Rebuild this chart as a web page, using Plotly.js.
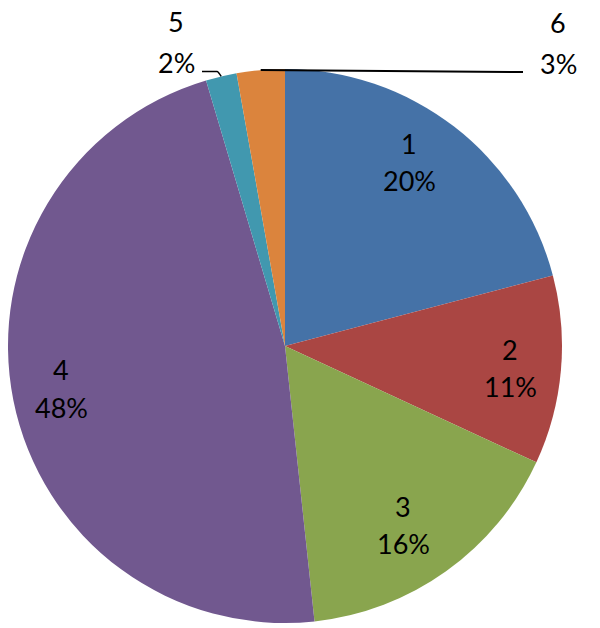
<!DOCTYPE html>
<html>
<head>
<meta charset="utf-8">
<script src="https://cdn.plot.ly/plotly-3.0.1.min.js"></script>
<style>html,body{margin:0;padding:0;background:#fff;}#chart{width:600px;height:628px;}</style>
</head>
<body>
<div id="chart"></div>
<script>
const labels = ['1', '2', '3', '4', '5', '6'];
const values = [20.9, 11.0, 16.4, 47.1, 1.8, 2.8];
const percentLabels = ['20%', '11%', '16%', '48%', '2%', '3%'];
const colors = ['#4572A7', '#AA4643', '#89A54E', '#71588F', '#4198AF', '#DB843D'];

// layout geometry
const W = 600, H = 628;
const L = 8, T = 69, S = 554;
const cx = L + S / 2, cy = T + S / 2, R = S / 2;
const toPx = (px) => (px - L) / S;
const toPy = (py) => 1 - (py - T) / S;

const total = values.reduce((a, b) => a + b, 0);
const cum = [];
let acc = 0;
values.forEach(v => { cum.push(acc); acc += v; });
const midAngle = i => (cum[i] + values[i] / 2) / total * 2 * Math.PI;

// data-label placement (pixel centres of each two-line label box)
const labelBoxes = [
  {i: 0, x: 409, y: 162, gap: 37.5},
  {i: 1, x: 510, y: 368, gap: 37.5},
  {i: 2, x: 403, y: 525, gap: 37.5},
  {i: 3, x: 61, y: 388, gap: 38},
  {i: 4, x: 176, y: 42, gap: 40, ex: 202, ey: 71.5, kx: 217},
  {i: 5, x: 558, y: 43, gap: 40, ex: 523, ey: 72}
];

const font = {family: 'Lato, "Open Sans", sans-serif', size: 27, color: '#000'};
const annotations = [];
const shapes = [];
labelBoxes.forEach(b => {
  annotations.push({x: toPx(b.x), y: toPy(b.y - b.gap / 2), xref: 'paper', yref: 'paper', text: labels[b.i],
    showarrow: false, font: font, xanchor: 'center', yanchor: 'middle'});
  annotations.push({x: toPx(b.x), y: toPy(b.y + b.gap / 2), xref: 'paper', yref: 'paper', text: percentLabels[b.i],
    showarrow: false, font: font, xanchor: 'center', yanchor: 'middle'});
  if (b.ex !== undefined) {
    const a = midAngle(b.i);
    const ax = cx + R * Math.sin(a), ay = cy - R * Math.cos(a);
    if (b.kx === undefined) {
      shapes.push({type: 'line', xref: 'paper', yref: 'paper', x0: toPx(ax), y0: toPy(ay), x1: toPx(b.ex), y1: toPy(b.ey),
        line: {color: '#000', width: 2}});
    } else {
      const p = 'M ' + toPx(ax) + ',' + toPy(ay) + ' Q ' + toPx(ax - 3) + ',' + toPy(b.ey) + ' ' + toPx(b.kx) + ',' + toPy(b.ey) +
        ' L ' + toPx(b.ex) + ',' + toPy(b.ey);
      shapes.push({type: 'path', xref: 'paper', yref: 'paper', path: p, line: {color: '#000', width: 1.5}});
    }
  }
});

const data = [{
  type: 'pie',
  labels: labels,
  values: values,
  marker: {colors: colors, line: {width: 0}},
  sort: false,
  direction: 'clockwise',
  rotation: 0,
  textinfo: 'none',
  hoverinfo: 'label+percent'
}];
const layout = {
  width: W, height: H,
  margin: {l: L, r: W - L - S, t: T, b: H - T - S, pad: 0},
  showlegend: false,
  paper_bgcolor: '#fff',
  plot_bgcolor: '#fff',
  annotations: annotations,
  shapes: shapes
};
Plotly.newPlot('chart', data, layout, {displayModeBar: false, staticPlot: true});
</script>
</body>
</html>
